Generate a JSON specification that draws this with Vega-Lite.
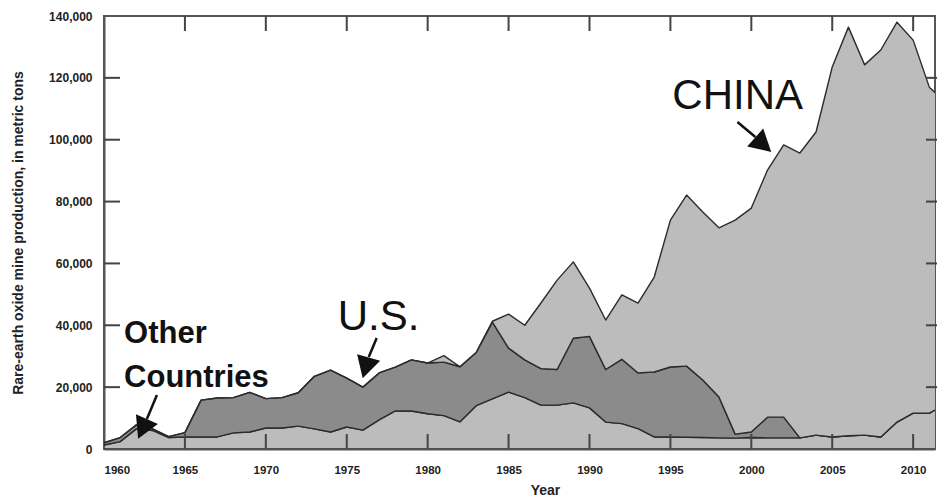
{
  "$schema": "https://vega.github.io/schema/vega-lite/v6.json",
  "width": 831,
  "height": 433,
  "autosize": {"type": "none"},
  "padding": {"left": 104, "top": 16, "right": 2, "bottom": 51},
  "background": "white",
  "config": {
    "view": {"stroke": "#555555", "strokeWidth": 2},
    "axis": {
      "domainColor": "#555555", "domainWidth": 2, "ticks": false, "grid": false,
      "labelFont": "Liberation Sans", "labelFontWeight": "bold", "labelColor": "#222222",
      "titleFont": "Liberation Sans", "titleFontWeight": "bold", "titleColor": "#222222"
    }
  },
  "layer": [
    {
      "data": {"values": [
        {"year": 1960, "Other": 1300, "US": 700, "China": 0},
        {"year": 1961, "Other": 2400, "US": 1300, "China": 0},
        {"year": 1962, "Other": 6500, "US": 1300, "China": 0},
        {"year": 1963, "Other": 6000, "US": 500, "China": 0},
        {"year": 1964, "Other": 3700, "US": 300, "China": 0},
        {"year": 1965, "Other": 3900, "US": 1400, "China": 0},
        {"year": 1966, "Other": 3900, "US": 11900, "China": 0},
        {"year": 1967, "Other": 3900, "US": 12600, "China": 0},
        {"year": 1968, "Other": 5200, "US": 11400, "China": 0},
        {"year": 1969, "Other": 5500, "US": 12800, "China": 0},
        {"year": 1970, "Other": 6800, "US": 9500, "China": 0},
        {"year": 1971, "Other": 6800, "US": 9800, "China": 0},
        {"year": 1972, "Other": 7400, "US": 10800, "China": 0},
        {"year": 1973, "Other": 6500, "US": 17000, "China": 0},
        {"year": 1974, "Other": 5500, "US": 20000, "China": 0},
        {"year": 1975, "Other": 7100, "US": 15800, "China": 0},
        {"year": 1976, "Other": 6100, "US": 13900, "China": 0},
        {"year": 1977, "Other": 9400, "US": 15200, "China": 0},
        {"year": 1978, "Other": 12300, "US": 14200, "China": 0},
        {"year": 1979, "Other": 12300, "US": 16500, "China": 0},
        {"year": 1980, "Other": 11400, "US": 16400, "China": 0},
        {"year": 1981, "Other": 10800, "US": 17300, "China": 2100},
        {"year": 1982, "Other": 8800, "US": 17800, "China": 0},
        {"year": 1983, "Other": 14000, "US": 17200, "China": 0},
        {"year": 1984, "Other": 16200, "US": 24800, "China": 300},
        {"year": 1985, "Other": 18400, "US": 14200, "China": 11000},
        {"year": 1986, "Other": 16600, "US": 12200, "China": 11200},
        {"year": 1987, "Other": 14200, "US": 11800, "China": 21200},
        {"year": 1988, "Other": 14200, "US": 11500, "China": 28900},
        {"year": 1989, "Other": 14900, "US": 20900, "China": 24700},
        {"year": 1990, "Other": 13300, "US": 23100, "China": 15600},
        {"year": 1991, "Other": 8700, "US": 17000, "China": 16000},
        {"year": 1992, "Other": 8200, "US": 20800, "China": 20800},
        {"year": 1993, "Other": 6600, "US": 18000, "China": 22600},
        {"year": 1994, "Other": 3900, "US": 21000, "China": 30700},
        {"year": 1995, "Other": 3900, "US": 22600, "China": 47500},
        {"year": 1996, "Other": 3800, "US": 23000, "China": 55300},
        {"year": 1997, "Other": 3700, "US": 18600, "China": 54300},
        {"year": 1998, "Other": 3600, "US": 13200, "China": 54700},
        {"year": 1999, "Other": 3500, "US": 1300, "China": 69200},
        {"year": 2000, "Other": 3700, "US": 1800, "China": 72400},
        {"year": 2001, "Other": 3600, "US": 6700, "China": 79900},
        {"year": 2002, "Other": 3600, "US": 6700, "China": 88000},
        {"year": 2003, "Other": 3600, "US": 0, "China": 92100},
        {"year": 2004, "Other": 4500, "US": 0, "China": 98000},
        {"year": 2005, "Other": 3900, "US": 0, "China": 119600},
        {"year": 2006, "Other": 4300, "US": 0, "China": 132100},
        {"year": 2007, "Other": 4500, "US": 0, "China": 119700},
        {"year": 2008, "Other": 3900, "US": 0, "China": 125100},
        {"year": 2009, "Other": 8700, "US": 0, "China": 129300},
        {"year": 2010, "Other": 11600, "US": 0, "China": 120600},
        {"year": 2011, "Other": 11600, "US": 0, "China": 105400},
        {"year": 2012, "Other": 14500, "US": 0, "China": 97500}
      ]},
      "transform": [
        {"fold": ["Other", "US", "China"], "as": ["region", "tons"]},
        {"lookup": "region", "from": {"data": {"values": [
          {"region": "Other", "rank": 1},
          {"region": "US", "rank": 2},
          {"region": "China", "rank": 3}
        ]}, "key": "region", "fields": ["rank"]}}
      ],
      "mark": {"type": "area", "clip": true, "stroke": "#2b2b2b", "strokeWidth": 1.4, "strokeJoin": "round"},
      "encoding": {
        "x": {
          "field": "year", "type": "quantitative",
          "scale": {"domain": [1960, 2011.35], "nice": false, "zero": false},
          "axis": {
            "orient": "bottom", "values": [1960, 1965, 1970, 1975, 1980, 1985, 1990, 1995, 2000, 2005, 2010],
            "format": "d", "labelPadding": 15, "labelFontSize": 11.5,
            "title": "Year", "titleFontSize": 14, "titleX": 441, "titlePadding": 8
          }
        },
        "y": {
          "field": "tons", "type": "quantitative", "stack": "zero",
          "scale": {"domain": [0, 140000], "nice": false},
          "axis": {
            "orient": "left", "values": [0, 20000, 40000, 60000, 80000, 100000, 120000, 140000],
            "format": ",.0f", "labelPadding": 12, "labelFontSize": 12,
            "title": "Rare-earth oxide mine production, in metric tons", "titleFontSize": 14,
            "titleX": -86, "titleBaseline": "middle"
          }
        },
        "color": {
          "field": "region", "type": "nominal",
          "scale": {"domain": ["Other", "US", "China"], "range": ["#bcbcbc", "#8b8b8b", "#bcbcbc"]},
          "legend": null
        },
        "order": {"field": "rank", "type": "quantitative", "sort": "ascending"}
      }
    },
    {
      "data": {"values": [
        {"year": 1965}, {"year": 1970}, {"year": 1975}, {"year": 1980}, {"year": 1985},
        {"year": 1990}, {"year": 1995}, {"year": 2000}, {"year": 2005}, {"year": 2010}
      ]},
      "mark": {"type": "tick", "orient": "vertical", "color": "#444444", "size": 15, "thickness": 2, "opacity": 1, "yOffset": -7.5},
      "encoding": {
        "x": {"field": "year", "type": "quantitative", "axis": null},
        "y": {"datum": 0, "type": "quantitative", "axis": null}
      }
    },
    {
      "data": {"values": [
        {"year": 1965}, {"year": 1970}, {"year": 1975}, {"year": 1980}, {"year": 1985},
        {"year": 1990}, {"year": 1995}, {"year": 2000}, {"year": 2005}, {"year": 2010}
      ]},
      "mark": {"type": "tick", "orient": "vertical", "color": "#444444", "size": 15, "thickness": 2, "opacity": 1, "yOffset": 7.5},
      "encoding": {
        "x": {"field": "year", "type": "quantitative", "axis": null},
        "y": {"datum": 140000, "type": "quantitative", "axis": null}
      }
    },
    {
      "data": {"values": [
        {"tons": 20000}, {"tons": 40000}, {"tons": 60000}, {"tons": 80000}, {"tons": 100000}, {"tons": 120000}
      ]},
      "mark": {"type": "tick", "orient": "horizontal", "color": "#444444", "size": 16, "thickness": 2, "opacity": 1, "xOffset": 8},
      "encoding": {
        "y": {"field": "tons", "type": "quantitative", "axis": null},
        "x": {"datum": 1960, "type": "quantitative", "axis": null}
      }
    },
    {
      "data": {"values": [
        {"tons": 20000}, {"tons": 40000}, {"tons": 60000}, {"tons": 80000}, {"tons": 100000}, {"tons": 120000}
      ]},
      "mark": {"type": "tick", "orient": "horizontal", "color": "#444444", "size": 18, "thickness": 2, "opacity": 1, "xOffset": 0},
      "encoding": {
        "y": {"field": "tons", "type": "quantitative", "axis": null},
        "x": {"datum": 2011.35, "type": "quantitative", "axis": null}
      }
    },
    {
      "data": {"values": [
        {"year": 1961.24, "tons": 34270, "label": "Other"},
        {"year": 1961.24, "tons": 20045, "label": "Countries"}
      ]},
      "mark": {"type": "text", "align": "left", "baseline": "alphabetic", "font": "Liberation Sans", "fontSize": 31, "fontWeight": "bold", "color": "#111111"},
      "encoding": {
        "x": {"field": "year", "type": "quantitative", "axis": null},
        "y": {"field": "tons", "type": "quantitative", "axis": null},
        "text": {"field": "label"}
      }
    },
    {
      "data": {"values": [
        {"year": 1974.44, "tons": 38470, "label": "U.S."},
        {"year": 1995.12, "tons": 109920, "label": "CHINA"}
      ]},
      "mark": {"type": "text", "align": "left", "baseline": "alphabetic", "font": "Liberation Sans", "fontSize": 42, "color": "#111111"},
      "encoding": {
        "x": {"field": "year", "type": "quantitative", "axis": null},
        "y": {"field": "tons", "type": "quantitative", "axis": null},
        "text": {"field": "label"}
      }
    },
    {
      "data": {"values": [
        {"year": 1963.27, "tons": 17460, "year2": 1962.65, "tons2": 9700},
        {"year": 1976.85, "tons": 35890, "year2": 1976.36, "tons2": 29740},
        {"year": 1999.14, "tons": 105720, "year2": 2000.25, "tons2": 100870}
      ]},
      "mark": {"type": "rule", "color": "#111111", "strokeWidth": 2.5},
      "encoding": {
        "x": {"field": "year", "type": "quantitative", "axis": null},
        "y": {"field": "tons", "type": "quantitative", "axis": null},
        "x2": {"field": "year2"},
        "y2": {"field": "tons2"}
      }
    },
    {
      "data": {"values": [{"year": 1962.41, "tons": 6850}]},
      "mark": {"type": "point", "shape": "M-1,-0.8L1,-0.8L0,1Z", "size": 576, "angle": 24, "filled": true, "color": "#111111", "opacity": 1, "strokeWidth": 0},
      "encoding": {
        "x": {"field": "year", "type": "quantitative", "axis": null},
        "y": {"field": "tons", "type": "quantitative", "axis": null}
      }
    },
    {
      "data": {"values": [{"year": 1976.19, "tons": 26610}]},
      "mark": {"type": "point", "shape": "M-1,-0.8L1,-0.8L0,1Z", "size": 576, "angle": 16, "filled": true, "color": "#111111", "opacity": 1, "strokeWidth": 0},
      "encoding": {
        "x": {"field": "year", "type": "quantitative", "axis": null},
        "y": {"field": "tons", "type": "quantitative", "axis": null}
      }
    },
    {
      "data": {"values": [{"year": 2000.68, "tons": 98640}]},
      "mark": {"type": "point", "shape": "M-1,-0.8L1,-0.8L0,1Z", "size": 576, "angle": -48, "filled": true, "color": "#111111", "opacity": 1, "strokeWidth": 0},
      "encoding": {
        "x": {"field": "year", "type": "quantitative", "axis": null},
        "y": {"field": "tons", "type": "quantitative", "axis": null}
      }
    }
  ],
  "resolve": {"axis": {"x": "independent", "y": "independent"}}
}
